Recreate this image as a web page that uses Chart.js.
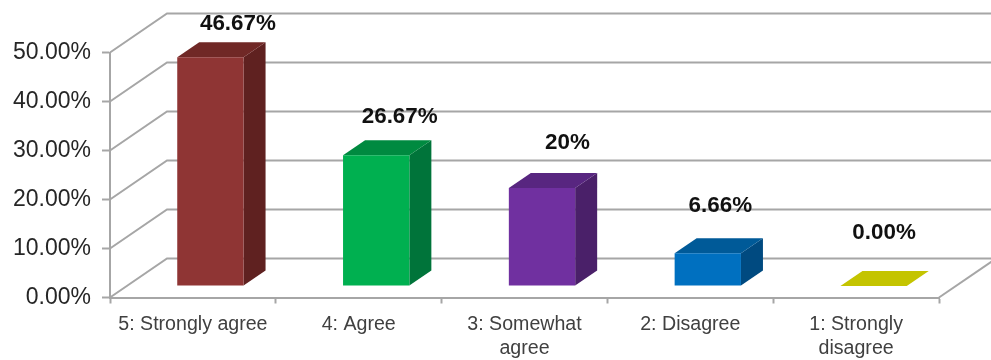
<!DOCTYPE html>
<html><head><meta charset="utf-8">
<style>html,body{margin:0;padding:0;background:#fff}canvas{display:block}</style>
<script src="https://cdn.jsdelivr.net/npm/chart.js@4"></script>
</head><body>
<canvas id="c" width="991" height="360"></canvas>
<script>
const categories = [['5: Strongly agree'], ['4: Agree'], ['3: Somewhat', 'agree'], ['2: Disagree'], ['1: Strongly', 'disagree']];
const values = [46.67, 26.67, 20, 6.66, 0];
const valueLabels = ['46.67%', '26.67%', '20%', '6.66%', '0.00%'];
const frontColors = ['#8f3534', '#00b050', '#7030a0', '#0070c0', '#c4c400'];
const sideColors = ['#5f2120', '#00743a', '#4a2069', '#004a80', '#c4c400'];
const topColors = ['#702826', '#008a40', '#582680', '#005a98', '#c4c400'];
const labelNudgeX = [27.5, 23.5, 25.5, 12.5, 10.5];
const labelNudgeY = [-33, -38, -45, -47.5, -53.5];

const GRID = '#a6a6a6';
const WALL = {dx: 57, dy: 39};
const FLOOR = {dx: 17.5, dy: 11.5};
const BAR = {dx: 22, dy: 15};

function poly(ctx, pts, fill) {
  ctx.beginPath();
  pts.forEach((p, i) => i ? ctx.lineTo(p[0], p[1]) : ctx.moveTo(p[0], p[1]));
  ctx.closePath();
  ctx.fillStyle = fill;
  ctx.fill();
}

const box3d = {
  id: 'box3d',
  beforeDatasetsDraw(chart) {
    const {ctx, chartArea: a, scales: {y}} = chart;
    ctx.save();
    ctx.strokeStyle = GRID;
    ctx.lineWidth = 2;
    y.ticks.forEach(t => {
      const py = y.getPixelForValue(t.value);
      ctx.beginPath();
      ctx.moveTo(a.left, py);
      ctx.lineTo(a.left + WALL.dx, py - WALL.dy);
      ctx.lineTo(a.right + WALL.dx, py - WALL.dy);
      ctx.stroke();
    });
    const py0 = y.getPixelForValue(0);
    ctx.beginPath();
    ctx.moveTo(a.right, py0);
    ctx.lineTo(a.right + WALL.dx, py0 - WALL.dy);
    ctx.stroke();
    const meta = chart.getDatasetMeta(0);
    meta.data.forEach((b, i) => {
      const l = b.x - b.width / 2 + FLOOR.dx, r = b.x + b.width / 2 + FLOOR.dx;
      const t = b.y - FLOOR.dy, bo = b.base - FLOOR.dy;
      poly(ctx, [[r, t], [r + BAR.dx, t - BAR.dy], [r + BAR.dx, bo - BAR.dy], [r, bo]], sideColors[i]);
      poly(ctx, [[l, t], [l + BAR.dx, t - BAR.dy], [r + BAR.dx, t - BAR.dy], [r, t]], topColors[i]);
    });
    ctx.restore();
  },
  beforeDatasetDraw(chart) {
    chart.ctx.save();
    chart.ctx.translate(FLOOR.dx, -FLOOR.dy);
  },
  afterDatasetDraw(chart) {
    chart.ctx.restore();
  },
  afterDatasetsDraw(chart) {
    const {ctx} = chart;
    const meta = chart.getDatasetMeta(0);
    ctx.save();
    ctx.font = 'bold 22.4px "Liberation Sans", Arial, sans-serif';
    ctx.fillStyle = '#111';
    ctx.textAlign = 'center';
    ctx.textBaseline = 'middle';
    meta.data.forEach((b, i) => {
      ctx.fillText(valueLabels[i], b.x + FLOOR.dx + labelNudgeX[i], b.y - FLOOR.dy + labelNudgeY[i]);
    });
    ctx.restore();
  }
};

new Chart(document.getElementById('c'), {
  type: 'bar',
  data: {
    labels: categories,
    datasets: [{
      data: values,
      backgroundColor: frontColors,
      barPercentage: 0.4,
      categoryPercentage: 1,
      clip: false
    }]
  },
  options: {
    responsive: false,
    animation: false,
    layout: {padding: {top: 52.5, right: 52, left: 0, bottom: 0}},
    plugins: {legend: {display: false}, tooltip: {enabled: false}, title: {display: false}},
    scales: {
      x: {
        afterFit(s) { s.height = 62.5; },
        grid: {drawOnChartArea: false, drawTicks: true, tickLength: 6, tickColor: GRID, tickWidth: 2},
        border: {color: GRID, width: 2},
        ticks: {
          maxRotation: 0, minRotation: 0, autoSkip: false, padding: 9,
          color: '#404040',
          font: {family: '"Liberation Sans", Arial, sans-serif', size: 19.6, lineHeight: 1.22}
        }
      },
      y: {
        min: 0, max: 50,
        afterFit(s) { s.width = 110; },
        grid: {drawOnChartArea: false, drawTicks: true, tickLength: 8, tickColor: GRID, tickWidth: 2},
        border: {color: GRID, width: 2},
        ticks: {
          stepSize: 10, padding: 11,
          color: '#262626',
          font: {family: '"Liberation Sans", Arial, sans-serif', size: 23},
          callback: v => v.toFixed(2) + '%'
        }
      }
    }
  },
  plugins: [box3d]
});
</script>
</body></html>
